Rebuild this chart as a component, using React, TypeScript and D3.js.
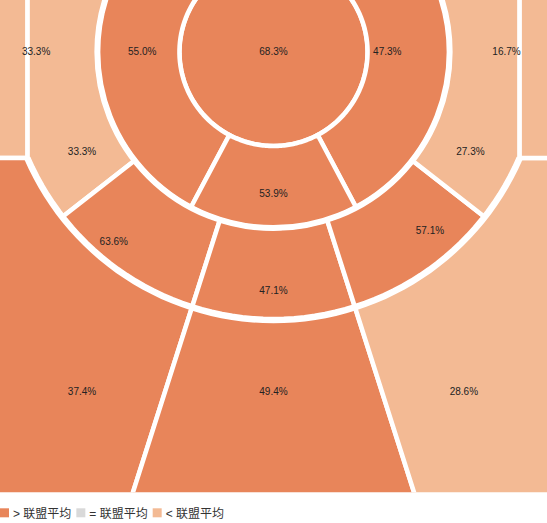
import * as d3 from "d3";
import { useEffect, useRef } from "react";

// zones, in the order they are drawn
const zoneNames = [
	"restricted",
	"paint-left",
	"paint-right",
	"paint-center",
	"mid-corner-left",
	"mid-wing-left",
	"mid-center",
	"mid-wing-right",
	"mid-corner-right",
	"three-corner-left",
	"three-wing-left",
	"three-center",
	"three-wing-right",
	"three-corner-right",
];
// field goal percentage per zone
const fgPct = [68.3, 55.0, 47.3, 53.9, 33.3, 63.6, 47.1, 57.1, 27.3, 33.3, 37.4, 49.4, 28.6, 16.7];
// compared with league average
const vsLeague = [">", ">", ">", ">", "<", ">", ">", ">", "<", "<", ">", ">", "<", "<"];
const legendLabels = ["> 联盟平均", "= 联盟平均", "< 联盟平均"];
const legendKeys = [">", "=", "<"];

const WIDTH = 547;
const HEIGHT = 523;

// court geometry in feet
const HALF_W = 25;
const LENGTH = 45;
const BASKET_Y = 4.75;
const R_RESTRICTED = 8.6;
const R_PAINT = 16.1;
const R_THREE = 24.5;
const CORNER_X = 22.5;
const FAR = 60;
const CENTER_DEG = 17.7;

const colors: Record<string, string> = { ">": "#E8855A", "=": "#D9D9D9", "<": "#F3BA94" };

const rad = (deg: number) => (deg * Math.PI) / 180;

const App = () => {
	const svgRef = useRef<SVGSVGElement>(null);

	useEffect(() => {
		if (!svgRef.current) return;
		document.body.style.margin = "0";

		const ft = d3.scaleLinear().domain([0, 2 * HALF_W]).range([0, WIDTH]);
		const px = (x: number) => ft(x + HALF_W);
		const py = (y: number) => ft(y);

		const svg = d3.select(svgRef.current).attr("width", WIDTH).attr("height", HEIGHT);
		svg.selectAll("*").remove();

		svg
			.append("clipPath")
			.attr("id", "court-clip")
			.append("rect")
			.attr("width", px(HALF_W))
			.attr("height", py(LENGTH));

		// polar point, angle measured from straight down, positive to the right
		const polar = (deg: number, r: number): [number, number] => [
			r * Math.sin(rad(deg)),
			BASKET_Y + r * Math.cos(rad(deg)),
		];
		const threeR = (deg: number) => {
			const s = Math.abs(Math.sin(rad(deg)));
			return s * R_THREE > CORNER_X ? Math.min(CORNER_X / s, FAR) : R_THREE;
		};
		const jointDeg = (Math.asin(CORNER_X / R_THREE) * 180) / Math.PI;
		const jointY = BASKET_Y + Math.sqrt(R_THREE ** 2 - CORNER_X ** 2);

		const samples = (a: number, b: number, rf: (d: number) => number) =>
			d3.range(0, 61).map((i) => {
				const d = a + ((b - a) * i) / 60;
				return polar(d, rf(d));
			});
		const band = (a: number, b: number, rIn: (d: number) => number, rOut: (d: number) => number) => [
			...samples(a, b, rOut),
			...samples(b, a, rIn),
		];
		const constR = (r: number) => () => r;

		const wing3 = (side: number): [number, number][] => [
			...samples(CENTER_DEG * side, jointDeg * side, constR(R_THREE)),
			[side * (HALF_W + 5), jointY],
			[side * (HALF_W + 5), LENGTH + 10],
			polar(CENTER_DEG * side, FAR),
		];
		const corner3 = (side: number): [number, number][] => [
			[side * CORNER_X, -10],
			[side * (HALF_W + 5), -10],
			[side * (HALF_W + 5), jointY],
			[side * CORNER_X, jointY],
		];

		const shapes: [number, number][][] = [
			samples(-180, 180, constR(R_RESTRICTED)),
			band(-28, -180, constR(R_RESTRICTED), constR(R_PAINT)),
			band(28, 180, constR(R_RESTRICTED), constR(R_PAINT)),
			band(-28, 28, constR(R_RESTRICTED), constR(R_PAINT)),
			band(-52, -180, constR(R_PAINT), threeR),
			band(-CENTER_DEG, -52, constR(R_PAINT), threeR),
			band(-CENTER_DEG, CENTER_DEG, constR(R_PAINT), threeR),
			band(CENTER_DEG, 52, constR(R_PAINT), threeR),
			band(52, 180, constR(R_PAINT), threeR),
			corner3(-1),
			wing3(-1),
			band(-CENTER_DEG, CENTER_DEG, threeR, constR(FAR)),
			wing3(1),
			corner3(1),
		];

		// label anchors in feet, offset from the basket
		const labelAt: [number, number][] = [
			[0, 0],
			[-12.0, 0],
			[10.4, 0],
			[0, 12.9],
			[-17.5, 9.1],
			[-14.6, 17.3],
			[0, 21.8],
			[14.3, 16.3],
			[18.0, 9.1],
			[-21.7, 0],
			[-17.5, 31.0],
			[0, 31.0],
			[17.4, 31.0],
			[21.3, 0],
		];

		const line = d3
			.line<[number, number]>()
			.x((d) => px(d[0]))
			.y((d) => py(d[1]));

		const court = svg.append("g").attr("clip-path", "url(#court-clip)");

		court
			.selectAll(".zone")
			.data(zoneNames)
			.enter()
			.append("path")
			.attr("class", "zone")
			.attr("d", (_, i) => line(shapes[i]) + "Z")
			.attr("fill", (_, i) => colors[vsLeague[i]])
			.attr("stroke", "#fff")
			.attr("stroke-width", 4.5)
			.attr("stroke-linejoin", "round");

		// heavier court lines
		court
			.append("circle")
			.attr("cx", px(0))
			.attr("cy", py(BASKET_Y))
			.attr("r", ft(R_PAINT))
			.attr("fill", "none")
			.attr("stroke", "#fff")
			.attr("stroke-width", 6);

		court
			.append("path")
			.attr("d", line(samples(-jointDeg, jointDeg, constR(R_THREE))))
			.attr("fill", "none")
			.attr("stroke", "#fff")
			.attr("stroke-width", 6.5);

		court
			.selectAll(".pct")
			.data(zoneNames)
			.enter()
			.append("text")
			.attr("class", "pct")
			.attr("x", (_, i) => px(labelAt[i][0]))
			.attr("y", (_, i) => py(BASKET_Y + labelAt[i][1]))
			.attr("dy", "0.35em")
			.attr("text-anchor", "middle")
			.style("font-family", "'Liberation Sans', Arial, sans-serif")
			.style("font-size", "10px")
			.attr("fill", "#222")
			.text((_, i) => `${fgPct[i].toFixed(1)}%`);

		// legend
		const legend = svg.append("g").attr("transform", `translate(0, ${py(LENGTH) + 21})`);
		let lx = 0;
		legendLabels.forEach((label, i) => {
			legend
				.append("rect")
				.attr("x", lx)
				.attr("y", -5)
				.attr("width", 9)
				.attr("height", 9)
				.attr("fill", colors[legendKeys[i]]);
			const t = legend
				.append("text")
				.attr("x", lx + 13)
				.attr("y", 0)
				.attr("dy", "0.38em")
				.style("font-family", "'Liberation Sans', Arial, 'Noto Sans CJK SC', sans-serif")
				.style("font-size", "12px")
				.attr("fill", "#333")
				.text(label);
			const w = (t.node() as SVGTextElement).getComputedTextLength();
			lx += 13 + w + 5;
		});
	}, []);

	return <svg ref={svgRef} style={{ display: "block" }}></svg>;
};

export default App;
